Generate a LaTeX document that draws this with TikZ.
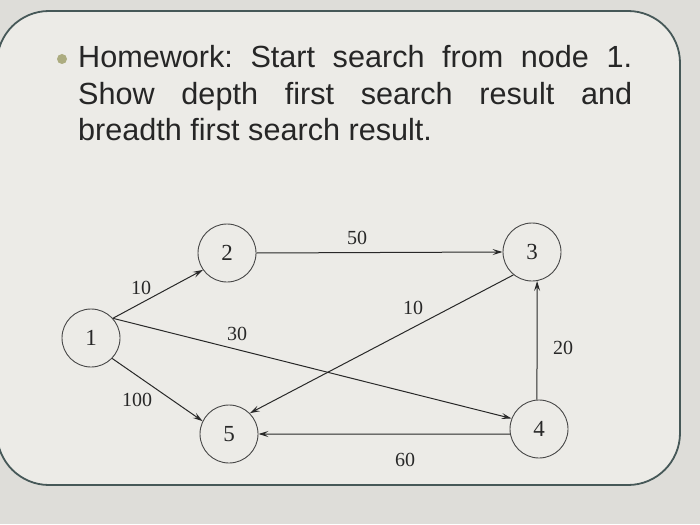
\documentclass[tikz,border=0pt]{standalone}
\usepackage{fontspec}
\setmainfont{Liberation Serif}
\newfontfamily\arialfont{Liberation Sans}
\usetikzlibrary{arrows.meta}
\definecolor{bgout}{RGB}{222,221,217}
\definecolor{bgin}{RGB}{236,235,231}
\definecolor{framecol}{RGB}{70,88,88}
\definecolor{bulletcol}{RGB}{172,172,128}
\definecolor{inkcol}{RGB}{40,40,40}
\frenchspacing
\tikzset{
  vertex/.style={circle,draw=inkcol!85,line width=0.9pt,minimum size=58pt,inner sep=0pt,
    font=\fontsize{23}{23}\selectfont,text=inkcol},
  edge/.style={draw=inkcol,line width=1pt,-{Stealth[length=10pt,width=6pt,inset=4pt]}},
  wlabel/.style={font=\fontsize{20}{20}\selectfont,text=inkcol,inner sep=0pt},
  titleline/.style={anchor=base west,inner sep=0pt,font=\arialfont\fontsize{30.6}{30.6}\selectfont,text=black!85}
}
\begin{document}
\begin{tikzpicture}[x=1pt,y=-1pt]
\useasboundingbox (0,0) rectangle (700,524);
\fill[bgout] (0,0) rectangle (700,524);
\draw[framecol,line width=1.8pt,fill=bgin,rounded corners=52pt] (-3,11) rectangle (680,485);
% title
\fill[bulletcol] (62,59) circle (5);
\node[titleline] (t1) at (78,68) {\makebox[554pt][s]{Homework: Start search from node 1.}};
\node[titleline] (t2) at (78,104) {\makebox[554pt][s]{Show depth first search result and}};
\node[titleline] (t3) at (78,140) {breadth first search result.};
% vertices
\node[vertex] (n1) at (91,338) {1};
\node[vertex] (n2) at (227,253) {2};
\node[vertex] (n3) at (532,252) {3};
\node[vertex] (n4) at (539,429) {4};
\node[vertex] (n5) at (229,434) {5};
% edges
\draw[edge] (n1.42) -- (n2.215);
\draw[edge] (n2.east) -- (n3.west);
\draw[edge] (n1.42) -- (n4.159);
\draw[edge] (n1.-44) -- (n5.154);
\draw[edge] (n3.231) -- (n5.45);
\draw[edge] (n4.94) -- (n3.280);
\draw[edge] (n4.190) -- (n5.east);
% weights
\node[wlabel] (w12) at (141,288) {10};
\node[wlabel] (w23) at (357,238) {50};
\node[wlabel] (w14) at (237,334) {30};
\node[wlabel] (w15) at (137,400) {100};
\node[wlabel] (w35) at (413,308) {10};
\node[wlabel] (w43) at (563,348) {20};
\node[wlabel] (w45) at (405,460) {60};
\end{tikzpicture}
\end{document}
